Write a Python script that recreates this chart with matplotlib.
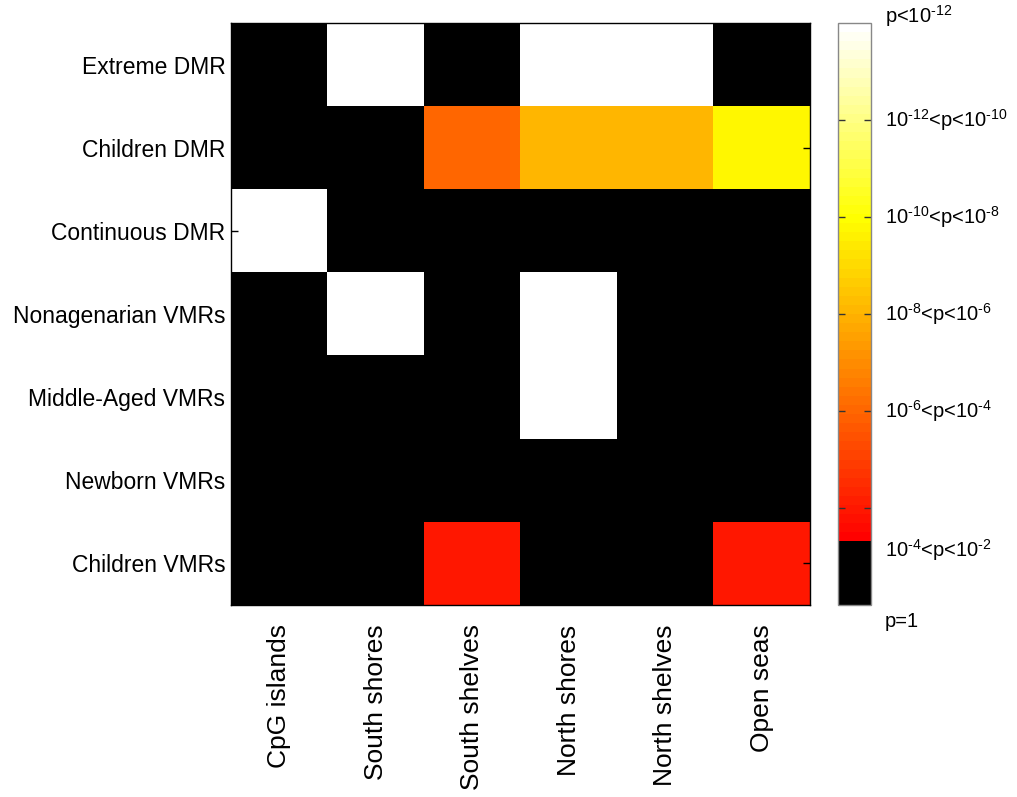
import numpy as np
import matplotlib
matplotlib.use("Agg")
import matplotlib.pyplot as plt
from matplotlib.colors import LinearSegmentedColormap

plt.rcParams['font.family'] = ['Liberation Sans', 'DejaVu Sans']
plt.rcParams['mathtext.default'] = 'regular'

# Data: scaled significance level per region / genomic feature
rows = ['Extreme DMR', 'Children DMR', 'Continuous DMR', 'Nonagenarian VMRs',
        'Middle-Aged VMRs', 'Newborn VMRs', 'Children VMRs']
cols = ['CpG islands', 'South shores', 'South shelves', 'North shores',
        'North shelves', 'Open seas']
extreme_dmr = [0, 6, 0, 6, 6, 0]
children_dmr = [0, 0, 2, 3, 3, 3.85]
continuous_dmr = [6, 0, 0, 0, 0, 0]
nonagenarian_vmrs = [0, 6, 0, 6, 0, 0]
middle_aged_vmrs = [0, 0, 0, 6, 0, 0]
newborn_vmrs = [0, 0, 0, 0, 0, 0]
children_vmrs = [0, 0, 1, 0, 0, 1]

h = '\u2010'  # plain hyphen in superscripts
cbar_labels = ['p<10$^{%s12}$' % h, '10$^{%s12}$<p<10$^{%s10}$' % (h, h),
               '10$^{%s10}$<p<10$^{%s8}$' % (h, h), '10$^{%s8}$<p<10$^{%s6}$' % (h, h),
               '10$^{%s6}$<p<10$^{%s4}$' % (h, h), '10$^{%s4}$<p<10$^{%s2}$' % (h, h),
               'p=1']
cbar_label_pos = [6.07, 5, 4, 3, 2, 0.57, -0.17]

data = np.array([extreme_dmr, children_dmr, continuous_dmr, nonagenarian_vmrs,
                 middle_aged_vmrs, newborn_vmrs, children_vmrs])

# black bottom, then red -> yellow -> white (like MATLAB hot)
b = 0.65 / 6
y = 4.0 / 6
cdict = {
    'red': [(0, 0, 0), (b, 0, 1), (1, 1, 1)],
    'green': [(0, 0, 0), (b, 0, 0), (y, 1, 1), (1, 1, 1)],
    'blue': [(0, 0, 0), (y, 0, 0), (1, 1, 1)],
}
cmap = LinearSegmentedColormap('pvals', cdict, N=64)

fig = plt.figure(figsize=(10.17, 7.97), dpi=100)
W, H = 1017, 797
ax = fig.add_axes([231 / W, (H - 605) / H, 579 / W, 582 / H])
cax = fig.add_axes([838 / W, (H - 605) / H, 33 / W, 582 / H])

im = ax.imshow(data, cmap=cmap, vmin=0, vmax=6, aspect='auto', interpolation='nearest')
ax.set_xticks(range(len(cols)))
ax.set_xticklabels(cols, rotation=90, fontsize=19, va='top')
ax.set_yticks(range(len(rows)))
ax.set_yticklabels(rows, fontsize=16.5)
ax.tick_params(axis='y', direction='in', length=5, width=1, right=True,
               color='black', pad=4)
ax.tick_params(axis='x', length=0, pad=14)
for s in ax.spines.values():
    s.set_linewidth(1)

cb = fig.colorbar(im, cax=cax, ticks=[1, 2, 3, 4, 5])
cb.outline.set_edgecolor('#888888')
cb.outline.set_linewidth(1)
cax.tick_params(axis='y', direction='in', length=5, width=1, left=True, right=True,
                labelright=False, labelleft=False, color='#333333')
for lab, v in zip(cbar_labels, cbar_label_pos):
    cax.text(1.42, v, lab, transform=cax.get_yaxis_transform(),
             fontsize=14.5, va='center', ha='left')

fig.savefig('out.png', dpi=100)
